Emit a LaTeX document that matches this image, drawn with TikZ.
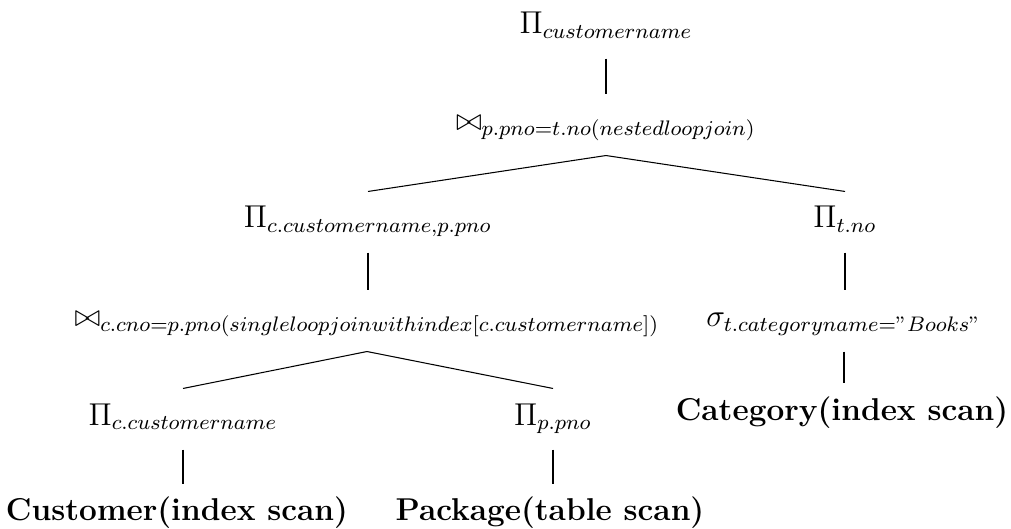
\documentclass[tikz,border=0pt,12pt]{standalone}
\begin{document}
\begin{tikzpicture}[x=0.38pt,y=-0.38pt,
  op/.style={anchor=base, inner sep=0pt, text height=13.68pt, text depth=9.12pt},
  link/.style={line width=0.4pt}]
\useasboundingbox (0,0) rectangle (1011,529);
% operator nodes, one row per tree level
\node[op] (proj)  at (606,34)  {$\Pi_{customername}$};
\node[op] (join)  at (606,131) {$\bowtie_{p.pno=t.no(nestedloopjoin)}$};
\node[op] (projcp) at (368,228) {$\Pi_{c.customername,p.pno}$};
\node[op] (projt) at (845,228) {$\Pi_{t.no}$};
\node[op] (joincp) at (367,327) {$\bowtie_{c.cno=p.pno(singleloopjoinwithindex[c.customername])}$};
\node[op] (sel)   at (844,327) {$\sigma_{t.categoryname="Books"}$};
\node[op] (projc) at (183,425) {$\Pi_{c.customername}$};
\node[op] (projp) at (553,425) {$\Pi_{p.pno}$};
\node[op] (cat)   at (842,420) {\textbf{Category(index scan)}};
\node[op] (cust)  at (177,521) {\textbf{Customer(index scan)}};
\node[op] (pack)  at (550,521) {\textbf{Package(table scan)}};
% tree edges: parent bottom to child top
\draw[link] (proj.south) -- (join.north);
\draw[link] (join.south) -- (projcp.north);
\draw[link] (join.south) -- (projt.north);
\draw[link] (projcp.south) -- (projcp.south |- joincp.north);
\draw[link] (projt.south) -- (projt.south |- sel.north);
\draw[link] (joincp.south) -- (projc.north);
\draw[link] (joincp.south) -- (projp.north);
\draw[link] (sel.south) -- (sel.south |- cat.north);
\draw[link] (projc.south) -- (projc.south |- cust.north);
\draw[link] (projp.south) -- (projp.south |- pack.north);
\end{tikzpicture}
\end{document}
